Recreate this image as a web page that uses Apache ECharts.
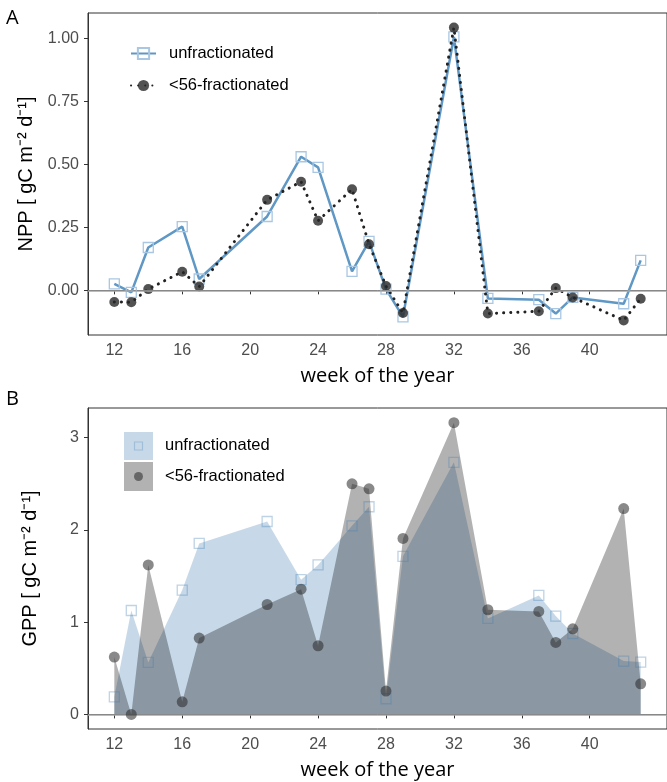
<!DOCTYPE html>
<html>
<head>
<meta charset="utf-8">
<script src="https://cdn.jsdelivr.net/npm/echarts@6/dist/echarts.min.js"></script>
<style>
  html, body { margin: 0; padding: 0; background: #fff; }
  #chart { width: 667px; height: 782px; }
</style>
</head>
<body>
<div id="chart"></div>
<script>
// weeks sampled (same for both panels)
const weeks = [12, 13, 14, 16, 17, 21, 23, 24, 26, 27, 28, 29, 32, 34, 37, 38, 39, 42, 43];
// panel A: NPP
const nppUnfrac = [0.026, -0.008, 0.17, 0.253, 0.045, 0.293, 0.53, 0.488, 0.075, 0.194, 0.005, -0.105, 1.005, -0.032, -0.037, -0.092, -0.028, -0.053, 0.119];
const nppFrac = [-0.046, -0.047, 0.005, 0.074, 0.015, 0.359, 0.431, 0.276, 0.401, 0.183, 0.017, -0.09, 1.042, -0.092, -0.083, 0.009, -0.028, -0.119, -0.033];
// panel B: GPP
const gppUnfrac = [0.19, 1.126, 0.563, 1.347, 1.853, 2.09, 1.46, 1.62, 2.043, 2.25, 0.17, 1.713, 2.731, 1.04, 1.289, 1.065, 0.877, 0.578, 0.567];
const gppFrac = [0.621, 0, 1.62, 0.137, 0.827, 1.191, 1.357, 0.744, 2.498, 2.444, 0.253, 1.907, 3.161, 1.134, 1.116, 0.78, 0.928, 2.23, 0.332];
// tick labels
const xTicks = [12, 16, 20, 24, 28, 32, 36, 40];
const nppTicks = [0, 0.25, 0.5, 0.75, 1];
const gppTicks = [0, 1, 2, 3];

const pairs = vals => weeks.map((w, i) => [w, vals[i]]);

const tickFont = 'Liberation Sans, Arial, sans-serif';
const titleFont = 'Open Sans, sans-serif';
const blueLine = '#5f97c5';
const blueSym = '#a9c7e2';

function xAxisCfg(gi) {
  return {
    type: 'value', gridIndex: gi, min: 10.45, max: 44.55,
    name: 'week of the year', nameLocation: 'middle', nameGap: 31,
    nameTextStyle: { fontFamily: titleFont, fontSize: 20, color: '#000' },
    axisLine: { show: true, lineStyle: { color: '#333', width: 1 } },
    axisTick: { show: true, length: 4, customValues: xTicks, lineStyle: { color: '#333' } },
    axisLabel: { customValues: xTicks, margin: 8, fontFamily: tickFont, fontSize: 16, color: '#4d4d4d' },
    splitLine: { show: false }
  };
}
function yAxisCfg(gi, min, max, ticks, name, fmt) {
  return {
    type: 'value', gridIndex: gi, min: min, max: max,
    name: name, nameLocation: 'middle', nameGap: 48,
    nameTextStyle: { fontFamily: tickFont, fontSize: 20, color: '#000' },
    axisLine: { show: true, lineStyle: { color: '#333', width: 1 } },
    axisTick: { show: true, length: 4, customValues: ticks, lineStyle: { color: '#333' } },
    axisLabel: { customValues: ticks, margin: 9, fontFamily: tickFont, fontSize: 16, color: '#4d4d4d', formatter: fmt },
    splitLine: { show: false }
  };
}
const zeroLine = {
  silent: true, symbol: 'none', label: { show: false },
  lineStyle: { color: '#a6a6a6', width: 1.5, type: 'solid' },
  data: [{ yAxis: 0 }]
};

const chart = echarts.init(document.getElementById('chart'));
chart.setOption({
  animation: false,
  backgroundColor: '#fff',
  grid: [
    { left: 88, top: 13, width: 584, height: 322, show: true, borderColor: '#333', borderWidth: 1 },
    { left: 88, top: 408, width: 584, height: 321, show: true, borderColor: '#333', borderWidth: 1 }
  ],
  xAxis: [xAxisCfg(0), xAxisCfg(1)],
  yAxis: [
    yAxisCfg(0, -0.177, 1.1, nppTicks, 'NPP [ gC m⁻² d⁻¹]', v => v.toFixed(2)),
    yAxisCfg(1, -0.158, 3.32, gppTicks, 'GPP [ gC m⁻² d⁻¹]', v => String(v))
  ],
  legend: {
    left: 125, top: 40, orient: 'vertical', itemWidth: 25, itemHeight: 14, itemGap: 15,
    data: ['unfractionated', '<56-fractionated'],
    textStyle: { fontFamily: tickFont, fontSize: 16.5, color: '#000', padding: [0, 0, 0, 8] }
  },
  graphic: [
    { type: 'text', left: 6, top: 8, style: { text: 'A', font: '20px Open Sans', fill: '#000' } },
    { type: 'text', left: 6, top: 389, style: { text: 'B', font: '20px Open Sans', fill: '#000' } },
    { type: 'rect', shape: { x: 124, y: 432, width: 29, height: 28 }, style: { fill: 'rgba(70,130,180,0.3)' } },
    { type: 'rect', shape: { x: 134.5, y: 442, width: 8, height: 8 }, style: { fill: 'none', stroke: 'rgba(70,130,180,0.3)', lineWidth: 1.2 } },
    { type: 'rect', shape: { x: 124, y: 462, width: 29, height: 29 }, style: { fill: 'rgba(0,0,0,0.3)' } },
    { type: 'circle', shape: { cx: 138.5, cy: 476.5, r: 4.5 }, style: { fill: 'rgba(40,40,40,0.55)' } },
    { type: 'text', left: 165, top: 437, style: { text: 'unfractionated', font: '16.5px Liberation Sans', fill: '#000' } },
    { type: 'text', left: 165, top: 468, style: { text: '<56-fractionated', font: '16.5px Liberation Sans', fill: '#000' } }
  ],
  series: [
    {
      name: 'unfractionated', type: 'line', xAxisIndex: 0, yAxisIndex: 0,
      data: pairs(nppUnfrac),
      symbol: 'rect', symbolSize: 10,
      itemStyle: { color: 'rgba(255,255,255,0)', borderColor: blueSym, borderWidth: 1.3 },
      lineStyle: { color: blueLine, width: 2.5 },
      markLine: zeroLine,
      z: 2
    },
    {
      name: '<56-fractionated', type: 'line', xAxisIndex: 0, yAxisIndex: 0,
      data: pairs(nppFrac),
      symbol: 'circle', symbolSize: 10,
      itemStyle: { color: 'rgba(40,40,40,0.8)' },
      lineStyle: { color: '#222', width: 3, type: [0.1, 7], cap: 'round' },
      z: 3
    },
    {
      name: 'GPP unfractionated', type: 'line', xAxisIndex: 1, yAxisIndex: 1,
      data: pairs(gppUnfrac), showSymbol: false,
      lineStyle: { width: 0 },
      areaStyle: { color: 'rgba(70,130,180,0.3)', opacity: 1, origin: 'auto' },
      markLine: zeroLine,
      z: 2
    },
    {
      name: 'GPP <56-fractionated', type: 'line', xAxisIndex: 1, yAxisIndex: 1,
      data: pairs(gppFrac), showSymbol: false,
      lineStyle: { width: 0 },
      areaStyle: { color: 'rgba(0,0,0,0.3)', opacity: 1, origin: 'auto' },
      z: 3
    },
    {
      name: 'GPP unfractionated pts', type: 'scatter', xAxisIndex: 1, yAxisIndex: 1,
      data: pairs(gppUnfrac), symbol: 'rect', symbolSize: 10,
      itemStyle: { color: 'rgba(255,255,255,0)', borderColor: 'rgba(70,130,180,0.35)', borderWidth: 1.3, opacity: 1 },
      z: 4
    },
    {
      name: 'GPP <56-fractionated pts', type: 'scatter', xAxisIndex: 1, yAxisIndex: 1,
      data: pairs(gppFrac), symbol: 'circle', symbolSize: 11,
      itemStyle: { color: 'rgba(40,40,40,0.55)', opacity: 1 },
      z: 5
    }
  ]
});
</script>
</body>
</html>
